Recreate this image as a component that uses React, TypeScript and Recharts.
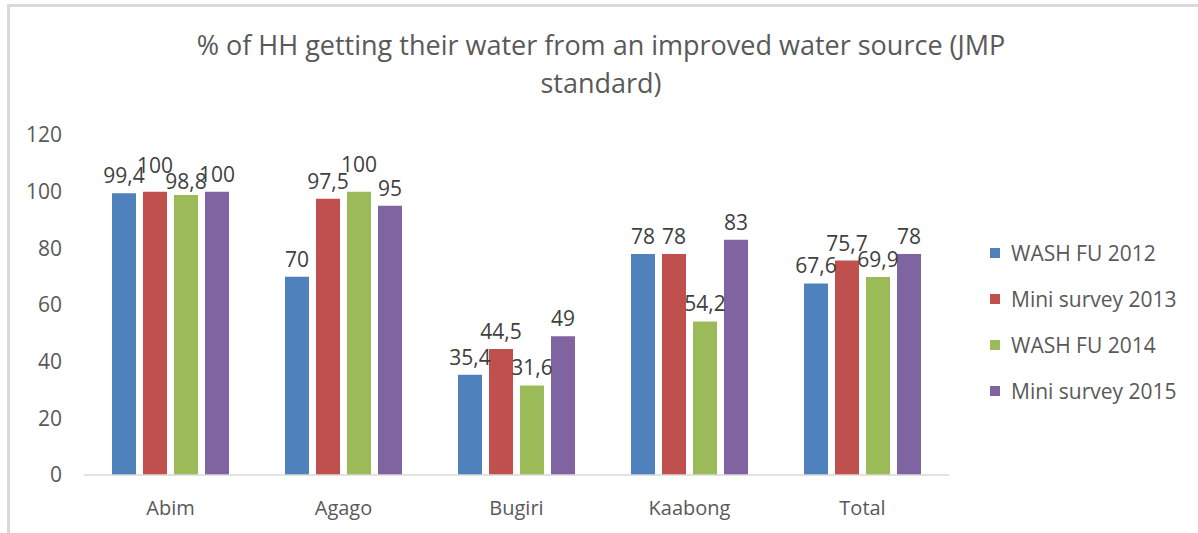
import { BarChart, Bar, XAxis, YAxis, Legend, LabelList } from "recharts";

const districts = ["Abim", "Agago", "Bugiri", "Kaabong", "Total"];
const washFu2012 = [99.4, 70, 35.4, 78, 67.6];
const miniSurvey2013 = [100, 97.5, 44.5, 78, 75.7];
const washFu2014 = [98.8, 100, 31.6, 54.2, 69.9];
const miniSurvey2015 = [100, 95, 49, 83, 78];
const yTicks = [0, 20, 40, 60, 80, 100, 120];

// extra label lift (px) where the original staggered crowded labels
const labelLift: Record<string, number[]> = {
  w2012: [0, 0, 0, 0, 0],
  m2013: [9, 0, 0, 0, 0],
  w2014: [-4, 10, 0, 0, 0],
  m2015: [0, 0, 0, 0, 0],
};

const series = [
  { key: "w2012", name: "WASH FU 2012", color: "#4F81BD", values: washFu2012 },
  { key: "m2013", name: "Mini survey 2013", color: "#C0504D", values: miniSurvey2013 },
  { key: "w2014", name: "WASH FU 2014", color: "#9BBB59", values: washFu2014 },
  { key: "m2015", name: "Mini survey 2015", color: "#8064A2", values: miniSurvey2015 },
];

const data = districts.map((name, i) => {
  const row: Record<string, string | number> = { name };
  series.forEach((s) => {
    row[s.key] = s.values[i];
  });
  return row;
});

const font = "'Open Sans', sans-serif";
const fmt = (v: any) => String(v).replace(".", ",");

const LegendBox = () => (
  <div style={{ fontFamily: font, fontSize: 21, color: "#595959" }}>
    {series.map((s) => (
      <div
        key={s.key}
        style={{ display: "flex", alignItems: "center", height: 46 }}
      >
        <span
          style={{
            width: 10,
            height: 10,
            background: s.color,
            marginRight: 11,
            display: "inline-block",
          }}
        />
        {s.name}
      </div>
    ))}
  </div>
);

const makeLabel = (key: string) => (props: any) => {
  const { x, y, width, value, index } = props;
  const lift = labelLift[key][index] || 0;
  return (
    <text
      x={x + width / 2}
      y={y - 10 - lift}
      textAnchor="middle"
      fill="#404040"
      fontSize={21}
      fontFamily={font}
    >
      {fmt(value)}
    </text>
  );
};

export default function App() {
  return (
    <div
      style={{
        position: "absolute",
        left: 0,
        top: 0,
        width: 1198,
        height: 533,
        background: "#fff",
        fontFamily: font,
      }}
    >
      <div
        style={{
          position: "absolute",
          left: 7,
          top: 4,
          right: 0,
          bottom: 0,
          borderLeft: "3px solid #d9d9d9",
          borderTop: "3px solid #d9d9d9",
        }}
      />
      <div
        style={{
          position: "absolute",
          left: 0,
          width: 1198,
          top: 26,
          textAlign: "center",
          fontSize: 27,
          lineHeight: "38px",
          color: "#595959",
          paddingLeft: 4,
          boxSizing: "border-box",
        }}
      >
        % of HH getting their water from an improved water source (JMP
        <br />
        standard)
      </div>
      <BarChart
        width={1198}
        height={533}
        data={data}
        margin={{ top: 135, right: 249, left: 0, bottom: 28 }}
        barSize={24}
        barGap={7}
        style={{ position: "absolute", left: 0, top: 0 }}
      >
        <XAxis
          dataKey="name"
          tickLine={false}
          axisLine={{ stroke: "#d9d9d9", strokeWidth: 1.5 }}
          tick={{ fill: "#595959", fontSize: 20, fontFamily: font }}
          tickMargin={20}
        />
        <YAxis
          width={84}
          domain={[0, 120]}
          ticks={yTicks}
          axisLine={false}
          tickLine={false}
          tickMargin={16}
          tick={{ fill: "#595959", fontSize: 21, fontFamily: font }}
        />
        <Legend
          layout="vertical"
          align="center"
          verticalAlign="middle"
          content={() => <LegendBox />}
          wrapperStyle={{ left: 990, top: 230, width: 205 }}
        />
        {series.map((s) => (
          <Bar
            key={s.key}
            dataKey={s.key}
            name={s.name}
            fill={s.color}
            isAnimationActive={false}
          >
            <LabelList dataKey={s.key} content={makeLabel(s.key)} />
          </Bar>
        ))}
      </BarChart>
    </div>
  );
}
